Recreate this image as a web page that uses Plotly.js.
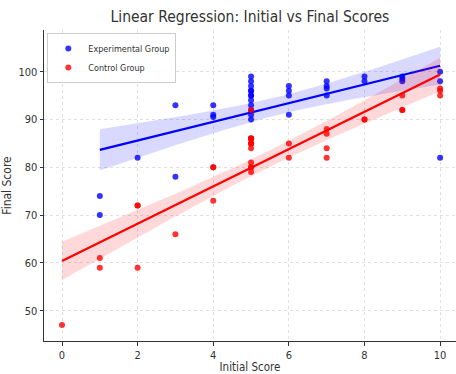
<!DOCTYPE html>
<html>
<head>
<meta charset="utf-8">
<script src="https://cdn.plot.ly/plotly-3.0.1.min.js"></script>
<style>html,body{margin:0;padding:0;background:#fff}#chart{width:456px;height:374px}</style>
</head>
<body>
<div id="chart"></div>
<script>
// Experimental group (blue)
const expInitial = [1,1, 2, 3,3, 4,4,4, 5,5,5,5,5,5,5,5,5,5,5,5, 6,6,6,6, 7,7,7,7, 8,8, 9,9,9, 10,10,10];
const expFinal   = [74,70, 82, 93,78, 93,91,90.5, 99,98,97,96,96,95,95,94,93,92,91,90, 97,96,95,91, 98,97,96.5,95, 99,98, 99,98.5,98, 100,98,82];
// Control group (red)
const ctlInitial = [0, 1,1, 2,2,2, 3, 4,4,4, 5,5,5,5,5,5,5,5,5,5,5,5,5, 6,6, 7,7,7,7, 8,8, 9,9,9, 10,10,10];
const ctlFinal   = [47, 61,59, 72,72,59, 66, 80,80,73, 92,86,86,86,86,85,85,85,84,81,80,80,79, 85,82, 88,87,84,82, 90,90, 95,92,92, 96.5,96,95];

const seriesNames = ['Experimental Group', 'Control Group'];
const xTicks = [0,2,4,6,8,10];
const yTicks = [50,60,70,80,90,100];

function fit(xs, ys) {
  const n = xs.length;
  const mx = xs.reduce((a,b)=>a+b,0)/n;
  const my = ys.reduce((a,b)=>a+b,0)/n;
  let sxx=0, sxy=0;
  for (let i=0;i<n;i++){ sxx+=(xs[i]-mx)**2; sxy+=(xs[i]-mx)*(ys[i]-my); }
  const b = sxy/sxx, a = my - b*mx;
  let sse=0;
  for (let i=0;i<n;i++){ sse+=(ys[i]-(a+b*xs[i]))**2; }
  const s = Math.sqrt(sse/(n-2));
  const lo = Math.min(...xs), hi = Math.max(...xs);
  const gx=[], gy=[], up=[], dn=[];
  const t = 2.03;
  for (let k=0;k<=100;k++){
    const x = lo + (hi-lo)*k/100;
    const y = a + b*x;
    const h = t*s*Math.sqrt(1/n + (x-mx)**2/sxx);
    gx.push(x); gy.push(y); up.push(y+h); dn.push(y-h);
  }
  return {gx, gy, up, dn};
}

const font = 'DejaVu Sans Condensed, Liberation Sans Narrow, DejaVu Sans, sans-serif';

function groupTraces(xs, ys, name, rgb) {
  const f = fit(xs, ys);
  return [
    {x: f.gx.concat(f.gx.slice().reverse()), y: f.up.concat(f.dn.slice().reverse()),
     type:'scatter', mode:'lines', fill:'toself', fillcolor:`rgba(${rgb},0.15)`,
     line:{width:0, color:'rgba(0,0,0,0)'}, showlegend:false, hoverinfo:'skip'},
    {x: xs, y: ys, type:'scatter', mode:'markers', name: name,
     marker:{color:`rgba(${rgb},0.8)`, size:6}},
    {x: f.gx, y: f.gy, type:'scatter', mode:'lines', showlegend:false,
     line:{color:`rgb(${rgb})`, width:2.2}}
  ];
}

const data = [
  ...groupTraces(expInitial, expFinal, seriesNames[0], '0,0,255'),
  ...groupTraces(ctlInitial, ctlFinal, seriesNames[1], '255,0,0')
];

const axisCommon = {
  showline:true, linecolor:'#333', linewidth:1, mirror:false,
  ticks:'outside', ticklen:3.5, tickcolor:'#333', tickwidth:1,
  showgrid:true, gridcolor:'#e0e0e0', griddash:'dot', gridwidth:1,
  zeroline:false, tickfont:{family:font, size:11, color:'#333'}
};

const layout = {
  width:456, height:374,
  margin:{l:44, r:0, t:30, b:33},
  paper_bgcolor:'#fff', plot_bgcolor:'#fff',
  font:{family:font, color:'#333'},
  title:{text:'Linear Regression: Initial vs Final Scores', x:0.548, xanchor:'center', y:0.955, yanchor:'middle',
         font:{family:font, size:15.5, color:'#333'}},
  xaxis:Object.assign({}, axisCommon, {range:[-0.476, 10.42], tickvals:xTicks,
         title:{text:'Initial Score', font:{family:font, size:11.5, color:'#333'}, standoff:4}}),
  yaxis:Object.assign({}, axisCommon, {range:[43.66, 108.72], tickvals:yTicks,
         title:{text:'Final Score', font:{family:font, size:12, color:'#333'}, standoff:4}}),
  legend:{x:0.008, y:0.99, xanchor:'left', yanchor:'top', bgcolor:'rgba(255,255,255,0.85)',
          bordercolor:'#ccc', borderwidth:1, font:{family:font, size:9, color:'#333'},
          itemwidth:30, tracegroupgap:0},
  showlegend:true
};

Plotly.newPlot('chart', data, layout, {displayModeBar:false, staticPlot:true});
</script>
</body>
</html>
